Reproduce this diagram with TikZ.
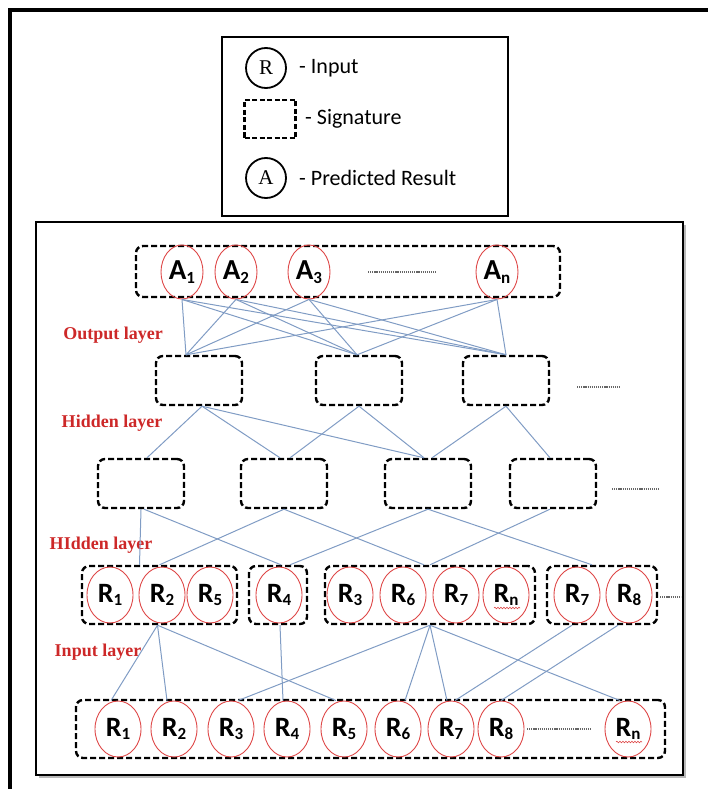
\documentclass[tikz,border=0pt]{standalone}
\usepackage{fontspec}
\setmainfont{Carlito}
\newfontfamily\serifface{Liberation Serif}
\usetikzlibrary{shapes.geometric,decorations.pathmorphing}
\definecolor{conncol}{RGB}{128,156,196}
\definecolor{redcirc}{RGB}{222,72,72}
\definecolor{laycol}{RGB}{205,40,40}
\newcommand\lsub[1]{\raisebox{-0.12em}{\fontsize{17}{17}\selectfont #1}}
\begin{document}
\begin{tikzpicture}[x=1pt,y=-1pt,
  dbox/.style={draw=black, line width=2.4pt, dash pattern=on 6pt off 3pt, rounded corners=7pt, inner sep=0pt},
  hbox/.style={dbox, minimum width=86pt, minimum height=49pt},
  acirc/.style={ellipse, draw=redcirc, line width=0.9pt, minimum width=42pt, minimum height=54pt, inner sep=0pt, font=\fontsize{29}{29}\selectfont\bfseries},
  rcirc/.style={ellipse, draw=redcirc, line width=0.9pt, minimum width=46pt, minimum height=56pt, inner sep=0pt, font=\fontsize{28}{28}\selectfont\bfseries},
  legcirc/.style={circle, draw=black, line width=1.8pt, minimum size=40pt, inner sep=0pt, font=\serifface\fontsize{21}{21}\selectfont},
  legsq/.style={draw=black, line width=2.2pt, dash pattern=on 5pt off 2.5pt, minimum width=51pt, minimum height=38pt, inner sep=0pt},
  legtxt/.style={anchor=west, inner sep=0pt, font=\fontsize{22}{22}\selectfont},
  laylab/.style={text=laycol, inner sep=0pt, font=\serifface\bfseries\fontsize{18}{18}\selectfont},
  conn/.style={draw=conncol, line width=1pt},
  dotln/.style={draw=gray!80!black, line width=1.3pt, dash pattern=on 1.2pt off 0.9pt},
  squig/.style={draw=redcirc, line width=0.6pt, decorate, decoration={snake, segment length=3pt, amplitude=0.8pt}}
]
\useasboundingbox (0,0) rectangle (708,789);
% outer frame
\draw[line width=4.5pt, black] (10,789) -- (10,10) -- (708,10);
% legend
\node[draw=black, line width=1.8pt, minimum width=286pt, minimum height=179pt, inner sep=0pt] (legend) at (365,126.5) {};
\node[legcirc] (legR) at (266,68) {R};
\node[legtxt] (legRt) at (299,68) {- Input};
\node[legsq] (legS) at (270,119) {};
\node[legtxt] (legSt) at (305,119) {- Signature};
\node[legcirc] (legA) at (266,178) {A};
\node[legtxt] (legAt) at (299,178) {- Predicted Result};
% main box with shadow
\draw[gray!55, line width=1.6pt] (39,777) -- (685,777) -- (685,225);
\node[draw=black, line width=1.8pt, minimum width=647pt, minimum height=553pt, inner sep=0pt] (mainbox) at (359.5,498.5) {};
% A row
\node[dbox, minimum width=424pt, minimum height=51pt] (arow) at (348,271.5) {};
\node[acirc] (a1) at (182,272) {A\lsub{1}};
\node[acirc] (a2) at (236,272) {A\lsub{2}};
\node[acirc] (a3) at (309,272) {A\lsub{3}};
\node[acirc] (an) at (497,272) {A\lsub{n}};
\draw[dotln] (368,272) -- (436,272);
% hidden layer 1
\node[hbox] (h1a) at (199,380.5) {};
\node[hbox] (h1b) at (359,380.5) {};
\node[hbox] (h1c) at (506,380.5) {};
\draw[dotln] (577,387) -- (620,387);
% hidden layer 2
\node[hbox] (h2a) at (141,483.5) {};
\node[hbox] (h2b) at (284,483.5) {};
\node[hbox] (h2c) at (428,483.5) {};
\node[hbox] (h2d) at (553,483.5) {};
\draw[dotln] (612,489) -- (660,489);
% groups
\node[dbox, minimum width=155pt, minimum height=58pt] (g1) at (159.5,595) {};
\node[dbox, minimum width=58pt, minimum height=58pt] (g2) at (278,595) {};
\node[dbox, minimum width=210pt, minimum height=58pt] (g3) at (430,595) {};
\node[dbox, minimum width=110pt, minimum height=58pt] (g4) at (602,595) {};
\node[rcirc] (m1) at (110,595) {R\lsub{1}};
\node[rcirc] (m2) at (162,595) {R\lsub{2}};
\node[rcirc] (m5) at (210,595) {R\lsub{5}};
\node[rcirc] (m4) at (279,595) {R\lsub{4}};
\node[rcirc] (m3) at (350,595) {R\lsub{3}};
\node[rcirc] (m6) at (403,595) {R\lsub{6}};
\node[rcirc] (m7) at (456,595) {R\lsub{7}};
\node[rcirc] (mn) at (506,595) {R\lsub{n}};
\node[rcirc] (m7b) at (577,595) {R\lsub{7}};
\node[rcirc] (m8) at (629,595) {R\lsub{8}};
\draw[dotln] (660,597) -- (681,597);
% bottom row
\node[dbox, minimum width=589pt, minimum height=58pt] (brow) at (370.5,729) {};
\node[rcirc] (b1) at (118,729) {R\lsub{1}};
\node[rcirc] (b2) at (174,729) {R\lsub{2}};
\node[rcirc] (b3) at (231,729) {R\lsub{3}};
\node[rcirc] (b4) at (287,729) {R\lsub{4}};
\node[rcirc] (b5) at (344,729) {R\lsub{5}};
\node[rcirc] (b6) at (398,729) {R\lsub{6}};
\node[rcirc] (b7) at (451,729) {R\lsub{7}};
\node[rcirc] (b8) at (501,729) {R\lsub{8}};
\node[rcirc] (bn) at (628,729) {R\lsub{n}};
\draw[dotln] (527,729) -- (592,729);
\draw[squig] ([xshift=-12pt,yshift=-13pt]mn.center) -- ([xshift=14pt,yshift=-13pt]mn.center);
\draw[squig] ([xshift=-12pt,yshift=-13pt]bn.center) -- ([xshift=14pt,yshift=-13pt]bn.center);
% layer labels
\node[laylab] (lOut) at (113,335) {Output layer};
\node[laylab] (lHid1) at (112,423) {Hidden layer};
\node[laylab] (lHid2) at (101,545) {HIdden layer};
\node[laylab] (lIn) at (98,652) {Input layer};
% connectors A -> hidden 1
\foreach \s in {a1,a2,a3,an}{
  \draw[conn] (\s.south) -- ([xshift=-13pt]h1a.north);
  \draw[conn] (\s.south) -- ([xshift=-2pt]h1b.north);
  \draw[conn] (\s.south) -- (h1c.north);
}
% hidden 1 -> hidden 2
\draw[conn] ([xshift=3pt]h1a.south) -- ([xshift=6pt]h2a.north);
\draw[conn] ([xshift=3pt]h1a.south) -- ([xshift=-4pt]h2b.north);
\draw[conn] ([xshift=3pt]h1a.south) -- ([xshift=-4pt]h2c.north);
\draw[conn] (h1b.south) -- ([xshift=6pt]h2b.north);
\draw[conn] (h1b.south) -- ([xshift=-4pt]h2c.north);
\draw[conn] (h1c.south) -- ([xshift=4pt]h2c.north);
\draw[conn] (h1c.south) -- ([xshift=-3pt]h2d.north);
% hidden 2 -> groups
\draw[conn] (h2a.south) -- ([xshift=-20pt]g1.north);
\draw[conn] ([xshift=3pt]h2a.south) -- ([xshift=3pt]g2.north);
\draw[conn] (h2b.south) -- (g1.north);
\draw[conn] (h2b.south) -- ([xshift=-6pt]g3.north);
\draw[conn] (h2c.south) -- ([xshift=12pt]g2.north);
\draw[conn] (h2c.south) -- ([xshift=-10pt]g4.north);
\draw[conn] ([xshift=-3pt]h2d.south) -- (g3.north);
% groups -> bottom row
\draw[conn] ([xshift=-2pt]g1.south) -- ([xshift=-7pt]b1.north);
\draw[conn] ([xshift=-2pt]g1.south) -- ([xshift=-7pt]b2.north);
\draw[conn] ([xshift=-2pt]g1.south) -- ([xshift=-8pt]b5.north);
\draw[conn] ([xshift=2pt]g2.south) -- ([xshift=-4pt]b4.north);
\draw[conn] (g3.south) -- ([xshift=7pt]b3.north);
\draw[conn] (g3.south) -- ([xshift=7pt]b6.north);
\draw[conn] (g3.south) -- ([xshift=-4pt]b7.north);
\draw[conn] (g3.south) -- ([xshift=-8pt]bn.north);
\draw[conn] ([xshift=-30pt]g4.south) -- ([xshift=4pt]b7.north);
\draw[conn] ([xshift=16pt]g4.south) -- (b8.north);
\end{tikzpicture}
\end{document}
